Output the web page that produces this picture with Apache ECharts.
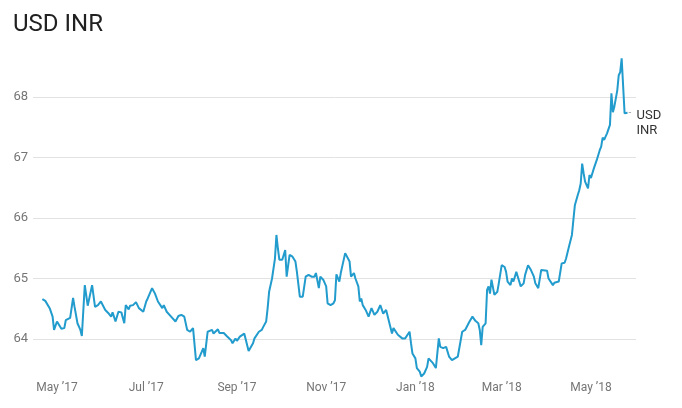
<!DOCTYPE html>
<html>
<head>
<meta charset="utf-8">
<script src="https://cdn.jsdelivr.net/npm/echarts@6/dist/echarts.min.js"></script>
<style>
  html, body { margin: 0; padding: 0; background: #ffffff; }
  #chart { width: 682px; height: 408px; }
</style>
</head>
<body>
<div id="chart"></div>
<script>
// Daily USD/INR reference rate, Apr 2017 – May 2018
const dates = [
  '2017-04-21','2017-04-23','2017-04-26','2017-04-28','2017-04-29','2017-05-01','2017-05-02','2017-05-04',
  '2017-05-06','2017-05-07','2017-05-10','2017-05-12','2017-05-13','2017-05-15','2017-05-17','2017-05-18',
  '2017-05-20','2017-05-22','2017-05-25','2017-05-27','2017-05-29','2017-05-31','2017-06-03','2017-06-05',
  '2017-06-07','2017-06-08','2017-06-10','2017-06-12','2017-06-14','2017-06-16','2017-06-17','2017-06-19',
  '2017-06-20','2017-06-22','2017-06-24','2017-06-26','2017-06-29','2017-07-01','2017-07-02','2017-07-05',
  '2017-07-07','2017-07-09','2017-07-12','2017-07-13','2017-07-15','2017-07-18','2017-07-21','2017-07-23',
  '2017-07-25','2017-07-27','2017-07-29','2017-07-31','2017-08-02','2017-08-04','2017-08-06','2017-08-08',
  '2017-08-09','2017-08-10','2017-08-12','2017-08-15','2017-08-16','2017-08-19','2017-08-20','2017-08-23',
  '2017-08-25','2017-08-28','2017-08-29','2017-08-31','2017-09-01','2017-09-03','2017-09-06','2017-09-07',
  '2017-09-09','2017-09-12','2017-09-13','2017-09-14','2017-09-16','2017-09-18','2017-09-19','2017-09-21',
  '2017-09-22','2017-09-23','2017-09-24','2017-09-25','2017-09-27','2017-09-28','2017-09-29','2017-09-30',
  '2017-10-02','2017-10-03','2017-10-04','2017-10-05','2017-10-07','2017-10-09','2017-10-11','2017-10-12',
  '2017-10-14','2017-10-16','2017-10-18','2017-10-20','2017-10-22','2017-10-24','2017-10-25','2017-10-27',
  '2017-10-28','2017-10-30','2017-11-01','2017-11-02','2017-11-04','2017-11-06','2017-11-07','2017-11-08',
  '2017-11-10','2017-11-11','2017-11-12','2017-11-14','2017-11-15','2017-11-17','2017-11-18','2017-11-20',
  '2017-11-21','2017-11-23','2017-11-24','2017-11-25','2017-11-26','2017-11-28','2017-11-30','2017-12-02',
  '2017-12-04','2017-12-06','2017-12-08','2017-12-10','2017-12-12','2017-12-13','2017-12-16','2017-12-17',
  '2017-12-18','2017-12-20','2017-12-21','2017-12-23','2017-12-25','2017-12-26','2017-12-28','2017-12-29',
  '2017-12-30','2018-01-01','2018-01-02','2018-01-04','2018-01-05','2018-01-07','2018-01-09','2018-01-10',
  '2018-01-11','2018-01-13','2018-01-15','2018-01-17','2018-01-18','2018-01-20','2018-01-22','2018-01-24',
  '2018-01-26','2018-01-28','2018-01-30','2018-01-31','2018-02-02','2018-02-04','2018-02-05','2018-02-07',
  '2018-02-09','2018-02-11','2018-02-13','2018-02-14','2018-02-15','2018-02-16','2018-02-18','2018-02-19',
  '2018-02-20','2018-02-21','2018-02-22','2018-02-24','2018-02-26','2018-02-27','2018-03-01','2018-03-03',
  '2018-03-04','2018-03-05','2018-03-07','2018-03-08','2018-03-09','2018-03-11','2018-03-12','2018-03-14',
  '2018-03-16','2018-03-17','2018-03-19','2018-03-21','2018-03-23','2018-03-24','2018-03-26','2018-03-28',
  '2018-03-29','2018-04-01','2018-04-02','2018-04-05','2018-04-06','2018-04-09','2018-04-10','2018-04-11',
  '2018-04-13','2018-04-14','2018-04-16','2018-04-18','2018-04-19','2018-04-20','2018-04-22','2018-04-23',
  '2018-04-24','2018-04-25','2018-04-26','2018-04-27','2018-04-29','2018-04-30','2018-05-01','2018-05-03',
  '2018-05-05','2018-05-07','2018-05-08','2018-05-09','2018-05-10','2018-05-12','2018-05-14','2018-05-15',
  '2018-05-16','2018-05-17','2018-05-19','2018-05-20','2018-05-21','2018-05-22','2018-05-24','2018-05-26'
];

const values = [
  64.66, 64.63, 64.51, 64.37, 64.15, 64.29, 64.26, 64.17,
  64.18, 64.31, 64.35, 64.68, 64.53, 64.26, 64.15, 64.05,
  64.89, 64.55, 64.89, 64.53, 64.56, 64.62, 64.48, 64.43,
  64.37, 64.44, 64.29, 64.45, 64.44, 64.26, 64.56, 64.49,
  64.55, 64.56, 64.61, 64.51, 64.45, 64.62, 64.67, 64.84,
  64.75, 64.62, 64.51, 64.56, 64.45, 64.37, 64.29, 64.38,
  64.40, 64.37, 64.15, 64.12, 64.18, 63.65, 63.68, 63.79,
  63.85, 63.71, 64.12, 64.15, 64.09, 64.16, 64.10, 64.10,
  64.05, 63.98, 63.93, 64.01, 63.97, 64.04, 64.09, 64.07,
  63.80, 63.93, 64.01, 64.04, 64.12, 64.15, 64.20, 64.29,
  64.51, 64.78, 64.81, 65.00, 65.33, 65.72, 65.50, 65.31,
  65.31, 65.32, 65.47, 65.03, 65.39, 65.36, 65.28, 65.11,
  64.70, 64.70, 65.03, 65.06, 65.03, 65.03, 65.09, 64.84,
  65.03, 64.98, 64.87, 64.59, 64.56, 64.59, 64.64, 65.07,
  64.95, 65.09, 65.20, 65.42, 65.39, 65.28, 65.03, 65.09,
  65.00, 64.87, 64.62, 64.67, 64.56, 64.48, 64.37, 64.51,
  64.40, 64.45, 64.56, 64.42, 64.48, 64.45, 64.09, 64.18,
  64.20, 64.07, 64.09, 64.01, 64.01, 64.04, 64.12, 63.93,
  63.76, 63.68, 63.52, 63.46, 63.38, 63.43, 63.54, 63.68,
  63.68, 63.60, 63.52, 64.01, 63.87, 63.85, 63.87, 63.71,
  63.65, 63.68, 63.71, 63.68, 64.12, 64.15, 64.18, 64.29,
  64.37, 64.30, 64.26, 64.15, 63.90, 64.20, 64.26, 64.81,
  64.87, 64.75, 64.98, 64.73, 64.78, 64.92, 65.22, 65.19,
  65.11, 64.95, 64.89, 65.00, 64.95, 65.11, 65.03, 64.87,
  64.92, 65.06, 65.22, 65.14, 65.03, 64.92, 64.84, 65.14,
  65.11, 65.13, 65.00, 64.89, 64.93, 64.95, 64.97, 65.25,
  65.26, 65.33, 65.53, 65.72, 65.97, 66.21, 66.38, 66.46,
  66.57, 66.90, 66.74, 66.60, 66.49, 66.71, 66.66, 66.82,
  66.96, 67.12, 67.18, 67.33, 67.29, 67.40, 67.54, 68.06,
  67.75, 67.84, 68.11, 68.36, 68.41, 68.64, 67.73, 67.74
];

// Month starts that carry an axis label
const xTickDates = ['2017-05-01', '2017-07-01', '2017-09-01', '2017-11-01', '2018-01-01', '2018-03-01', '2018-05-01'];
const monthNames = ['Jan', 'Feb', 'Mar', 'Apr', 'May', 'Jun', 'Jul', 'Aug', 'Sep', 'Oct', 'Nov', 'Dec'];
const seriesName = 'USD INR';

const DAY = 86400000;
function toTime(s) {
  const p = s.split('-').map(Number);
  return Date.UTC(p[0], p[1] - 1, p[2]);
}
const axisOrigin = toTime('2017-05-01');

const chart = echarts.init(document.getElementById('chart'), null, { renderer: 'canvas' });

chart.setOption({
  animation: false,
  backgroundColor: '#ffffff',
  title: {
    text: seriesName,
    left: 8,
    top: 8,
    textStyle: { fontFamily: 'Roboto', fontSize: 24, fontWeight: 'normal', color: '#212121' }
  },
  grid: { left: 33, right: 46, top: 54.65, bottom: 26.65, containLabel: false },
  // Linear time scale (ms since epoch) with labels only at alternate month starts
  xAxis: {
    type: 'value',
    min: axisOrigin - 16.4 * DAY,
    max: axisOrigin + 395.8 * DAY,
    axisLine: { show: false },
    axisTick: { show: false },
    splitLine: { show: false },
    axisLabel: {
      customValues: xTickDates.map(toTime),
      formatter: function (v) {
        const d = new Date(v);
        return monthNames[d.getUTCMonth()] + ' \u2019' + String(d.getUTCFullYear()).slice(2);
      },
      margin: 1,
      hideOverlap: false,
      fontFamily: 'Roboto',
      fontSize: 12,
      color: '#757575'
    }
  },
  yAxis: {
    type: 'value',
    min: 63.3,
    max: 68.7,
    axisLine: { show: false },
    axisTick: { show: false },
    axisLabel: {
      showMinLabel: false,
      showMaxLabel: false,
      margin: 5,
      fontFamily: 'Roboto',
      fontSize: 13,
      color: '#757575'
    },
    splitLine: {
      showMinLine: false,
      showMaxLine: false,
      lineStyle: { color: '#e2e2e2', width: 1 }
    }
  },
  series: [{
    name: seriesName,
    type: 'line',
    data: dates.map(function (d, i) { return [toTime(d), values[i]]; }),
    showSymbol: false,
    symbol: 'none',
    lineStyle: { color: '#229bcd', width: 2 },
    itemStyle: { color: '#229bcd' },
    // Series name at the end of the line, with a short leader dash
    endLabel: {
      show: true,
      formatter: '{dash|-}{t|USD}\n{pad|}{t|INR}',
      distance: 1,
      align: 'left',
      verticalAlign: 'top',
      offset: [0, -4],
      rich: {
        dash: { width: 8, fontFamily: 'Roboto', fontSize: 10, lineHeight: 15, color: '#9e9e9e', verticalAlign: 'top' },
        pad: { width: 8, lineHeight: 15 },
        t: { fontFamily: 'Roboto', fontSize: 13, lineHeight: 15, color: '#333333' }
      }
    }
  }]
});
</script>
</body>
</html>
